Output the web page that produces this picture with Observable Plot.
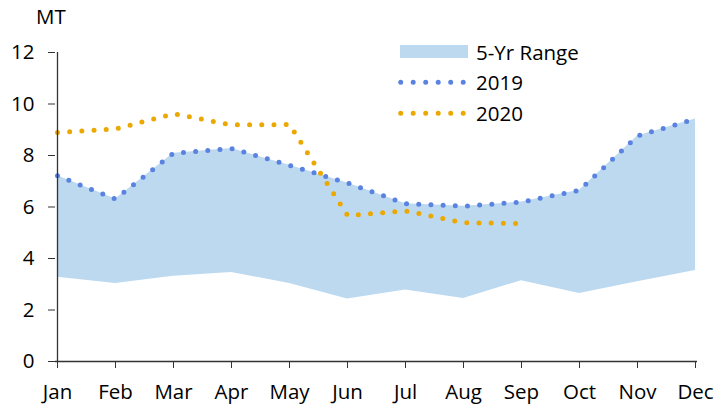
<!DOCTYPE html>
<html><head><meta charset="utf-8">
<script src="https://cdn.jsdelivr.net/npm/d3@7"></script>
<script src="https://cdn.jsdelivr.net/npm/@observablehq/plot@0.6"></script>
<style>
body{margin:0;background:#fff;font-family:"Open Sans",sans-serif}
#wrap{position:relative;width:717px;height:407px;overflow:hidden}
#overlay{position:absolute;left:0;top:0;pointer-events:none}
</style></head><body><div id="wrap"></div>
<script>
const months = ["Jan","Feb","Mar","Apr","May","Jun","Jul","Aug","Sep","Oct","Nov","Dec"];
const rangeMax = [7.21, 6.31, 8.09, 8.27, 7.62, 6.93, 6.13, 6.03, 6.19, 6.65, 8.76, 9.42];
const rangeMin = [3.27, 3.03, 3.31, 3.46, 3.03, 2.43, 2.78, 2.45, 3.14, 2.64, 3.10, 3.53];
const values2019 = [7.21, 6.31, 8.09, 8.27, 7.62, 6.93, 6.13, 6.03, 6.19, 6.65, 8.76, 9.42];
const values2020 = [8.89, 9.03, 9.62, 9.19, 9.20, 5.67, 5.85, 5.39, 5.36];
const yTicks = [0, 2, 4, 6, 8, 10, 12];
const unitLabel = "MT";
const legendLabels = ["5-Yr Range", "2019", "2020"];

const colors = {range: "#BDD9F0", y2019: "#5A82E0", y2020: "#EBA800", axis: "#333"};
const font = "Open Sans, sans-serif";
const fontSize = 20.5;

const rangeRows = months.map((m, i) => ({month: m, min: rangeMin[i], max: rangeMax[i]}));
const rows2019 = values2019.map((v, i) => ({month: months[i], value: v}));
const rows2020 = values2020.map((v, i) => ({month: months[i], value: v}));

const dotStyle = {strokeWidth: 5, strokeDasharray: "0 12.2", strokeLinecap: "round", strokeLinejoin: "round"};

const chart = Plot.plot({
  width: 717,
  height: 407,
  marginLeft: 55,
  marginRight: 20,
  marginTop: 52,
  marginBottom: 46,
  style: {fontFamily: font, fontSize: fontSize + "px", color: "#000", background: "#fff"},
  x: {type: "point", domain: months, padding: 0, label: null},
  y: {domain: [0, 12], label: null},
  marks: [
    Plot.areaY(rangeRows, {x: "month", y1: "min", y2: "max", fill: colors.range}),
    Plot.line(rows2019, {x: "month", y: "value", stroke: colors.y2019, ...dotStyle}),
    Plot.line(rows2020, {x: "month", y: "value", stroke: colors.y2020, ...dotStyle}),
    Plot.ruleY([0], {stroke: colors.axis, strokeWidth: 1.3}),
    Plot.ruleX([months[0]], {stroke: colors.axis, strokeWidth: 1.3}),
    Plot.axisY({ticks: yTicks, tickSize: 7, tickPadding: 14, fontSize, stroke: colors.axis, label: null, tickFormat: d => String(d)}),
    Plot.axisX({tickSize: 7, tickPadding: 16, fontSize, stroke: colors.axis, label: null})
  ]
});

const wrap = document.getElementById("wrap");
wrap.appendChild(chart);

// overlay: unit label and legend
const ov = d3.select(wrap).append("svg")
  .attr("id", "overlay").attr("width", 717).attr("height", 407)
  .style("font-family", font).style("font-size", fontSize + "px");

ov.append("text").attr("x", 36).attr("y", 24).text(unitLabel);

const lx = 400, lt = 476;
const rows = [
  {label: legendLabels[0], y: 51.5, base: 59.5, kind: "rect", color: colors.range},
  {label: legendLabels[1], y: 82.3, base: 90, kind: "dots", color: colors.y2019},
  {label: legendLabels[2], y: 113.3, base: 120.5, kind: "dots", color: colors.y2020}
];
for (const r of rows) {
  if (r.kind === "rect") {
    ov.append("rect").attr("x", lx).attr("y", r.y - 6.5).attr("width", 68).attr("height", 13).attr("fill", r.color);
  } else {
    ov.append("line").attr("x1", lx + 0.7).attr("x2", lx + 68).attr("y1", r.y).attr("y2", r.y)
      .attr("stroke", r.color).attr("stroke-width", 5).attr("stroke-dasharray", "0 12.5").attr("stroke-linecap", "round");
  }
  ov.append("text").attr("x", lt).attr("y", r.base).text(r.label);
}
</script>
</body></html>
